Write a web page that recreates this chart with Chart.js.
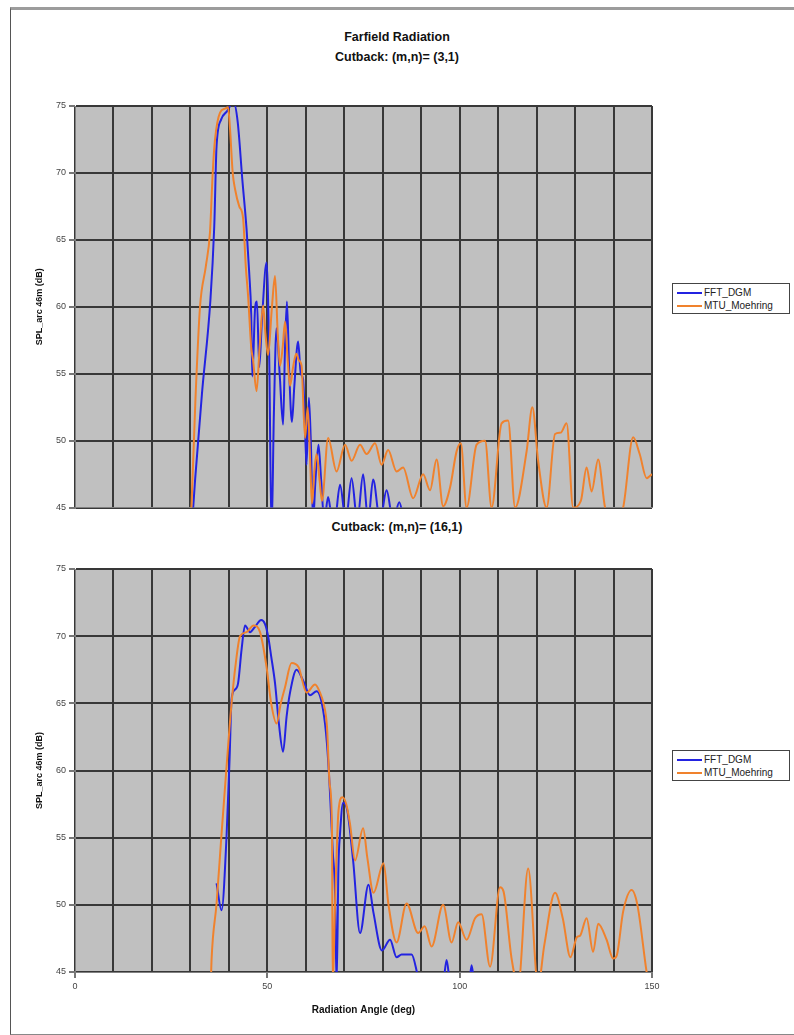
<!DOCTYPE html>
<html>
<head>
<meta charset="utf-8">
<script src="https://cdn.jsdelivr.net/npm/chart.js@4.4.1/dist/chart.umd.min.js"></script>
<style>
  body { margin: 0; background: #fff; font-family: "Liberation Sans", Arial, sans-serif; }
  #page { position: relative; width: 794px; height: 1035px; overflow: hidden; }
  .frame { position: absolute; left: 10px; top: 7px; width: 800px; height: 1024px;
           border-top: 3px solid #9c9c9c; border-left: 1px solid #555; border-bottom: 1px solid #888; }
  .title { position: absolute; left: 247px; width: 300px; text-align: center;
           font-weight: bold; font-size: 12.5px; color: #111; line-height: 15px; }
  canvas { position: absolute; }
  .legend { position: absolute; left: 672px; width: 116px; height: 29px; border: 1px solid #444; background: #fff; }
  .legend .item { position: absolute; left: 4px; height: 12px; font-size: 10px; color: #222; white-space: nowrap; }
  .legend .swatch { position: absolute; left: 0; top: 5px; width: 25px; height: 2px; }
  .legend .label { position: absolute; left: 27px; top: 0; line-height: 12px; }
</style>
</head>
<body>
<div id="page">
  <div class="frame"></div>
  <div class="title" style="top:30px">Farfield Radiation</div>
  <div class="title" style="top:50px">Cutback: (m,n)= (3,1)</div>
  <div class="title" style="top:520px">Cutback: (m,n)= (16,1)</div>
  <canvas id="top" width="652" height="426" style="left:28px; top:90px"></canvas>
  <canvas id="bottom" width="652" height="467" style="left:28px; top:553px"></canvas>
  <div class="legend" id="legTop" style="top:283px"></div>
  <div class="legend" id="legBottom" style="top:750px"></div>
</div>
<script>
const seriesNames = ['FFT_DGM', 'MTU_Moehring'];
const seriesColors = ['rgb(35,35,225)', 'rgb(240,130,45)'];
const yTicks = [45, 50, 55, 60, 65, 70, 75];
const xLabels = [0, 50, 100, 150];

// Cutback (3,1)
const angTopFft = [30.5, 31.2, 33, 35.2, 36.2, 36.8, 38, 39.5, 41.2, 42.3, 43.5, 44.6, 45.3, 45.8, 46.1, 46.8, 47.3, 47.9, 48.6, 49.8,
  50.5, 51.1, 51.7, 52.4, 53.2, 54.1, 54.6, 55.1, 55.7, 56.4, 57, 58, 58.7, 59.3, 59.9, 60.2, 60.8, 61.3, 61.9, 62.5,
  63.3, 64, 64.8, 65.8, 66.6, 67.5, 68.9, 70.4, 71.9, 73.4, 74.9, 76.2, 77.5, 79.3, 81, 82.7, 84.3, 85.5];
const splTopFft = [44, 47, 53.5, 60.5, 66, 72, 74, 74.6, 75.3, 73.8, 69.5, 65.8, 62.5, 59.5, 54.8, 59.8, 60.4, 55.5, 59, 63.3,
  56, 43, 52, 58.4, 55, 51.2, 57, 60.4, 55, 51.4, 54, 57.4, 55, 54.6, 50, 48.2, 53.2, 50, 44, 47,
  49.7, 47, 44, 45.8, 44.5, 44, 46.7, 44, 47.2, 44, 47.5, 44, 47.1, 44, 46.3, 44, 45.4, 44];
const angTopMtu = [30, 30.3, 31.3, 32.5, 34, 35.1, 35.8, 36.4, 37.7, 39, 39.8, 40.3, 41, 41.6, 42.7, 43.7, 44.4, 45, 45.8, 46.3,
  47.2, 48, 48.9, 49.5, 50.2, 51.2, 52, 52.7, 53.3, 54, 54.6, 55.3, 55.9, 56.7, 57.5, 58.2, 58.9, 59.8, 60.5, 61.2,
  61.6, 62.3, 62.8, 63.6, 64.2, 65.8, 68, 70.2, 71.9, 74.1, 75.8, 78, 79.7, 81.4, 83.6, 85.3, 87.9, 90.5, 92.3, 94,
  95.7, 97.5, 99.2, 100.3, 101.8, 104.4, 106.6, 108.3, 110.9, 112.6, 114.4, 117.4, 118.9, 120.4, 122.6, 124.8, 126.3, 127.8, 129.5, 131.5,
  133, 134.3, 136, 137.8, 140, 142.5, 145.1, 146.8, 148.6, 150];
const splTopMtu = [44, 45.3, 53, 60, 63, 65.6, 70, 72.5, 74.5, 74.8, 74.9, 73.3, 70, 68.8, 67.5, 66.6, 63, 60.8, 57, 56,
  53.7, 57, 60.1, 58, 56.4, 60, 62.3, 58, 55.6, 57, 58.9, 56, 54.1, 55.5, 56.5, 56, 55.6, 50.2, 52.5, 48,
  45.3, 48, 49, 47, 45.5, 50.2, 47.7, 49.7, 48.5, 49.7, 49, 49.8, 48.2, 49.3, 47.7, 48, 45.7, 47.5, 46.3, 48.6,
  45.1, 46.5, 49.2, 49.8, 45, 49.7, 50, 45, 51.3, 51.5, 45, 49.2, 52.5, 48.5, 45, 50.5, 50.6, 51.3, 45, 45.5,
  48, 46.2, 48.6, 45, 44, 45, 50.25, 49, 47.2, 47.5];

// Cutback (16,1)
const angBotFft = [36.8, 38.1, 39.4, 40.2, 40.7, 41.5, 42.4, 43.3, 44.2, 45.5, 46.8, 48.4, 49.4, 50.2, 51, 52, 53, 54.1, 55, 55.9,
  57.6, 59.3, 61.1, 62.8, 64.5, 65.5, 66.3, 67, 67.6, 68, 68.5, 68.9, 69.7, 70.8, 72.3, 74.1, 76.3, 77.6, 79.8, 81.9,
  83.6, 84.9, 87.5, 88.8, 89.5, 95.6, 96.6, 97.5, 102.4, 103.1, 103.8];
const splBotFft = [51.6, 49.6, 55.1, 61, 65.3, 66, 66.5, 69, 70.8, 70.3, 70.7, 71.2, 70.9, 70, 68.5, 66.5, 63.5, 61.4, 64, 65.8,
  67.5, 66.7, 65.6, 65.9, 64.5, 62, 58.3, 54, 50.9, 44, 53, 55.3, 57.6, 57, 53.3, 47.9, 51.5, 49.4, 46.6, 47.4,
  46.1, 46.3, 46.3, 45.1, 44, 44, 45.9, 44.3, 44, 45.5, 44];
const angBotMtu = [35.3, 35.5, 36.8, 38.1, 39.4, 40.7, 41.8, 42.9, 44.6, 46.4, 48.1, 49.8, 51, 52.4, 53.5, 54.6, 56.3, 58.1, 60.2, 62.4,
  63.7, 64.6, 65.5, 66.2, 66.8, 67, 67.6, 68.5, 69.5, 70.5, 71.5, 72.8, 74.9, 76, 77.6, 80.2, 81.5, 83.6, 86.2, 89.2,
  90.9, 92.7, 95.7, 97.9, 99.6, 101.8, 104, 105.7, 107.9, 110.5, 111.4, 113.5, 115.2, 117.8, 120.4, 122, 124.8, 126.8, 128.8, 130.5,
  131.3, 133, 134.7, 136, 138.2, 139.9, 140.8, 142.5, 144.7, 146.2, 148.6, 149.2];
const splBotMtu = [44, 45.9, 50.1, 55.3, 60.3, 65, 68, 70, 70.3, 70.8, 70.3, 67.7, 65, 63.5, 65, 66.2, 68, 67.7, 65.8, 66.4,
  65.8, 65, 63.3, 59, 55.8, 44, 50, 57, 58, 57.5, 56, 53.3, 55.7, 53.5, 50.9, 53.1, 50, 47.2, 50.1, 47.9,
  48.4, 46.9, 50, 47.2, 48.7, 47.4, 49, 49.3, 45.4, 51.3, 51, 46, 44, 52.7, 44, 47, 50.9, 49, 46.1, 47.6,
  47.7, 49, 46.5, 48.6, 47.4, 46, 46.2, 49.5, 51.1, 50, 45, 44];

function pts(ang, spl) {
  return ang.map((a, i) => ({ x: a, y: spl[i] }));
}

const plotBg = {
  id: 'plotBg',
  beforeDraw(chart) {
    const { ctx, chartArea: a } = chart;
    ctx.save();
    ctx.fillStyle = '#c0c0c0';
    ctx.fillRect(a.left, a.top, a.right - a.left, a.bottom - a.top);
    ctx.restore();
  }
};

function makeChart(id, fft, mtu, showX, legendId) {
  const datasets = [fft, mtu].map((d, i) => ({
    label: seriesNames[i],
    data: d,
    showLine: true,
    borderColor: seriesColors[i],
    backgroundColor: seriesColors[i],
    borderWidth: 2,
    pointRadius: 0,
    cubicInterpolationMode: 'monotone',
    order: 1 - i
  }));

  new Chart(document.getElementById(id), {
    type: 'scatter',
    data: { datasets },
    options: {
      responsive: false,
      animation: false,
      layout: { padding: { top: 16, right: 28, left: 0, bottom: 0 } },
      plugins: { legend: { display: false }, tooltip: { enabled: false } },
      scales: {
        x: {
          type: 'linear', min: 0, max: 150,
          afterFit: s => { s.height = showX ? 48 : 6; },
          ticks: {
            display: showX, stepSize: 10, autoSkip: false, maxRotation: 0, padding: 3,
            color: '#444', font: { family: 'Liberation Sans', size: 9 },
            callback: v => xLabels.includes(v) ? String(v) : ''
          },
          grid: {
            color: '#383838', lineWidth: 2, drawTicks: showX, tickLength: 6,
            tickColor: c => (c.tick && c.tick.value % 50 === 0) ? '#777' : 'rgba(0,0,0,0)'
          },
          border: { color: '#808080', width: 1 },
          title: {
            display: showX, text: 'Radiation Angle (deg)', color: '#111',
            font: { family: 'Liberation Sans', size: 10, weight: 'bold' }, padding: { top: 4, bottom: 4 }
          }
        },
        y: {
          min: 45, max: 75,
          afterFit: s => { s.width = 47; },
          afterBuildTicks: s => { s.ticks = yTicks.map(v => ({ value: v })); },
          ticks: { padding: 3, color: '#444', font: { family: 'Liberation Sans', size: 9 } },
          grid: { color: '#383838', lineWidth: 2, tickLength: 6, tickColor: '#777' },
          border: { color: '#808080', width: 1 },
          title: {
            display: true, text: 'SPL_arc 46m (dB)', color: '#111',
            font: { family: 'Liberation Sans', size: 9, weight: 'bold' }, padding: { top: 6, bottom: 0 }
          }
        }
      }
    },
    plugins: [plotBg]
  });

  const leg = document.getElementById(legendId);
  seriesNames.forEach((name, i) => {
    const item = document.createElement('div');
    item.className = 'item';
    item.style.top = (3 + i * 13) + 'px';
    item.innerHTML = '<span class="swatch" style="background:' + seriesColors[i] + '"></span><span class="label">' + name + '</span>';
    leg.appendChild(item);
  });
}

makeChart('top', pts(angTopFft, splTopFft), pts(angTopMtu, splTopMtu), false, 'legTop');
makeChart('bottom', pts(angBotFft, splBotFft), pts(angBotMtu, splBotMtu), true, 'legBottom');
</script>
</body>
</html>
